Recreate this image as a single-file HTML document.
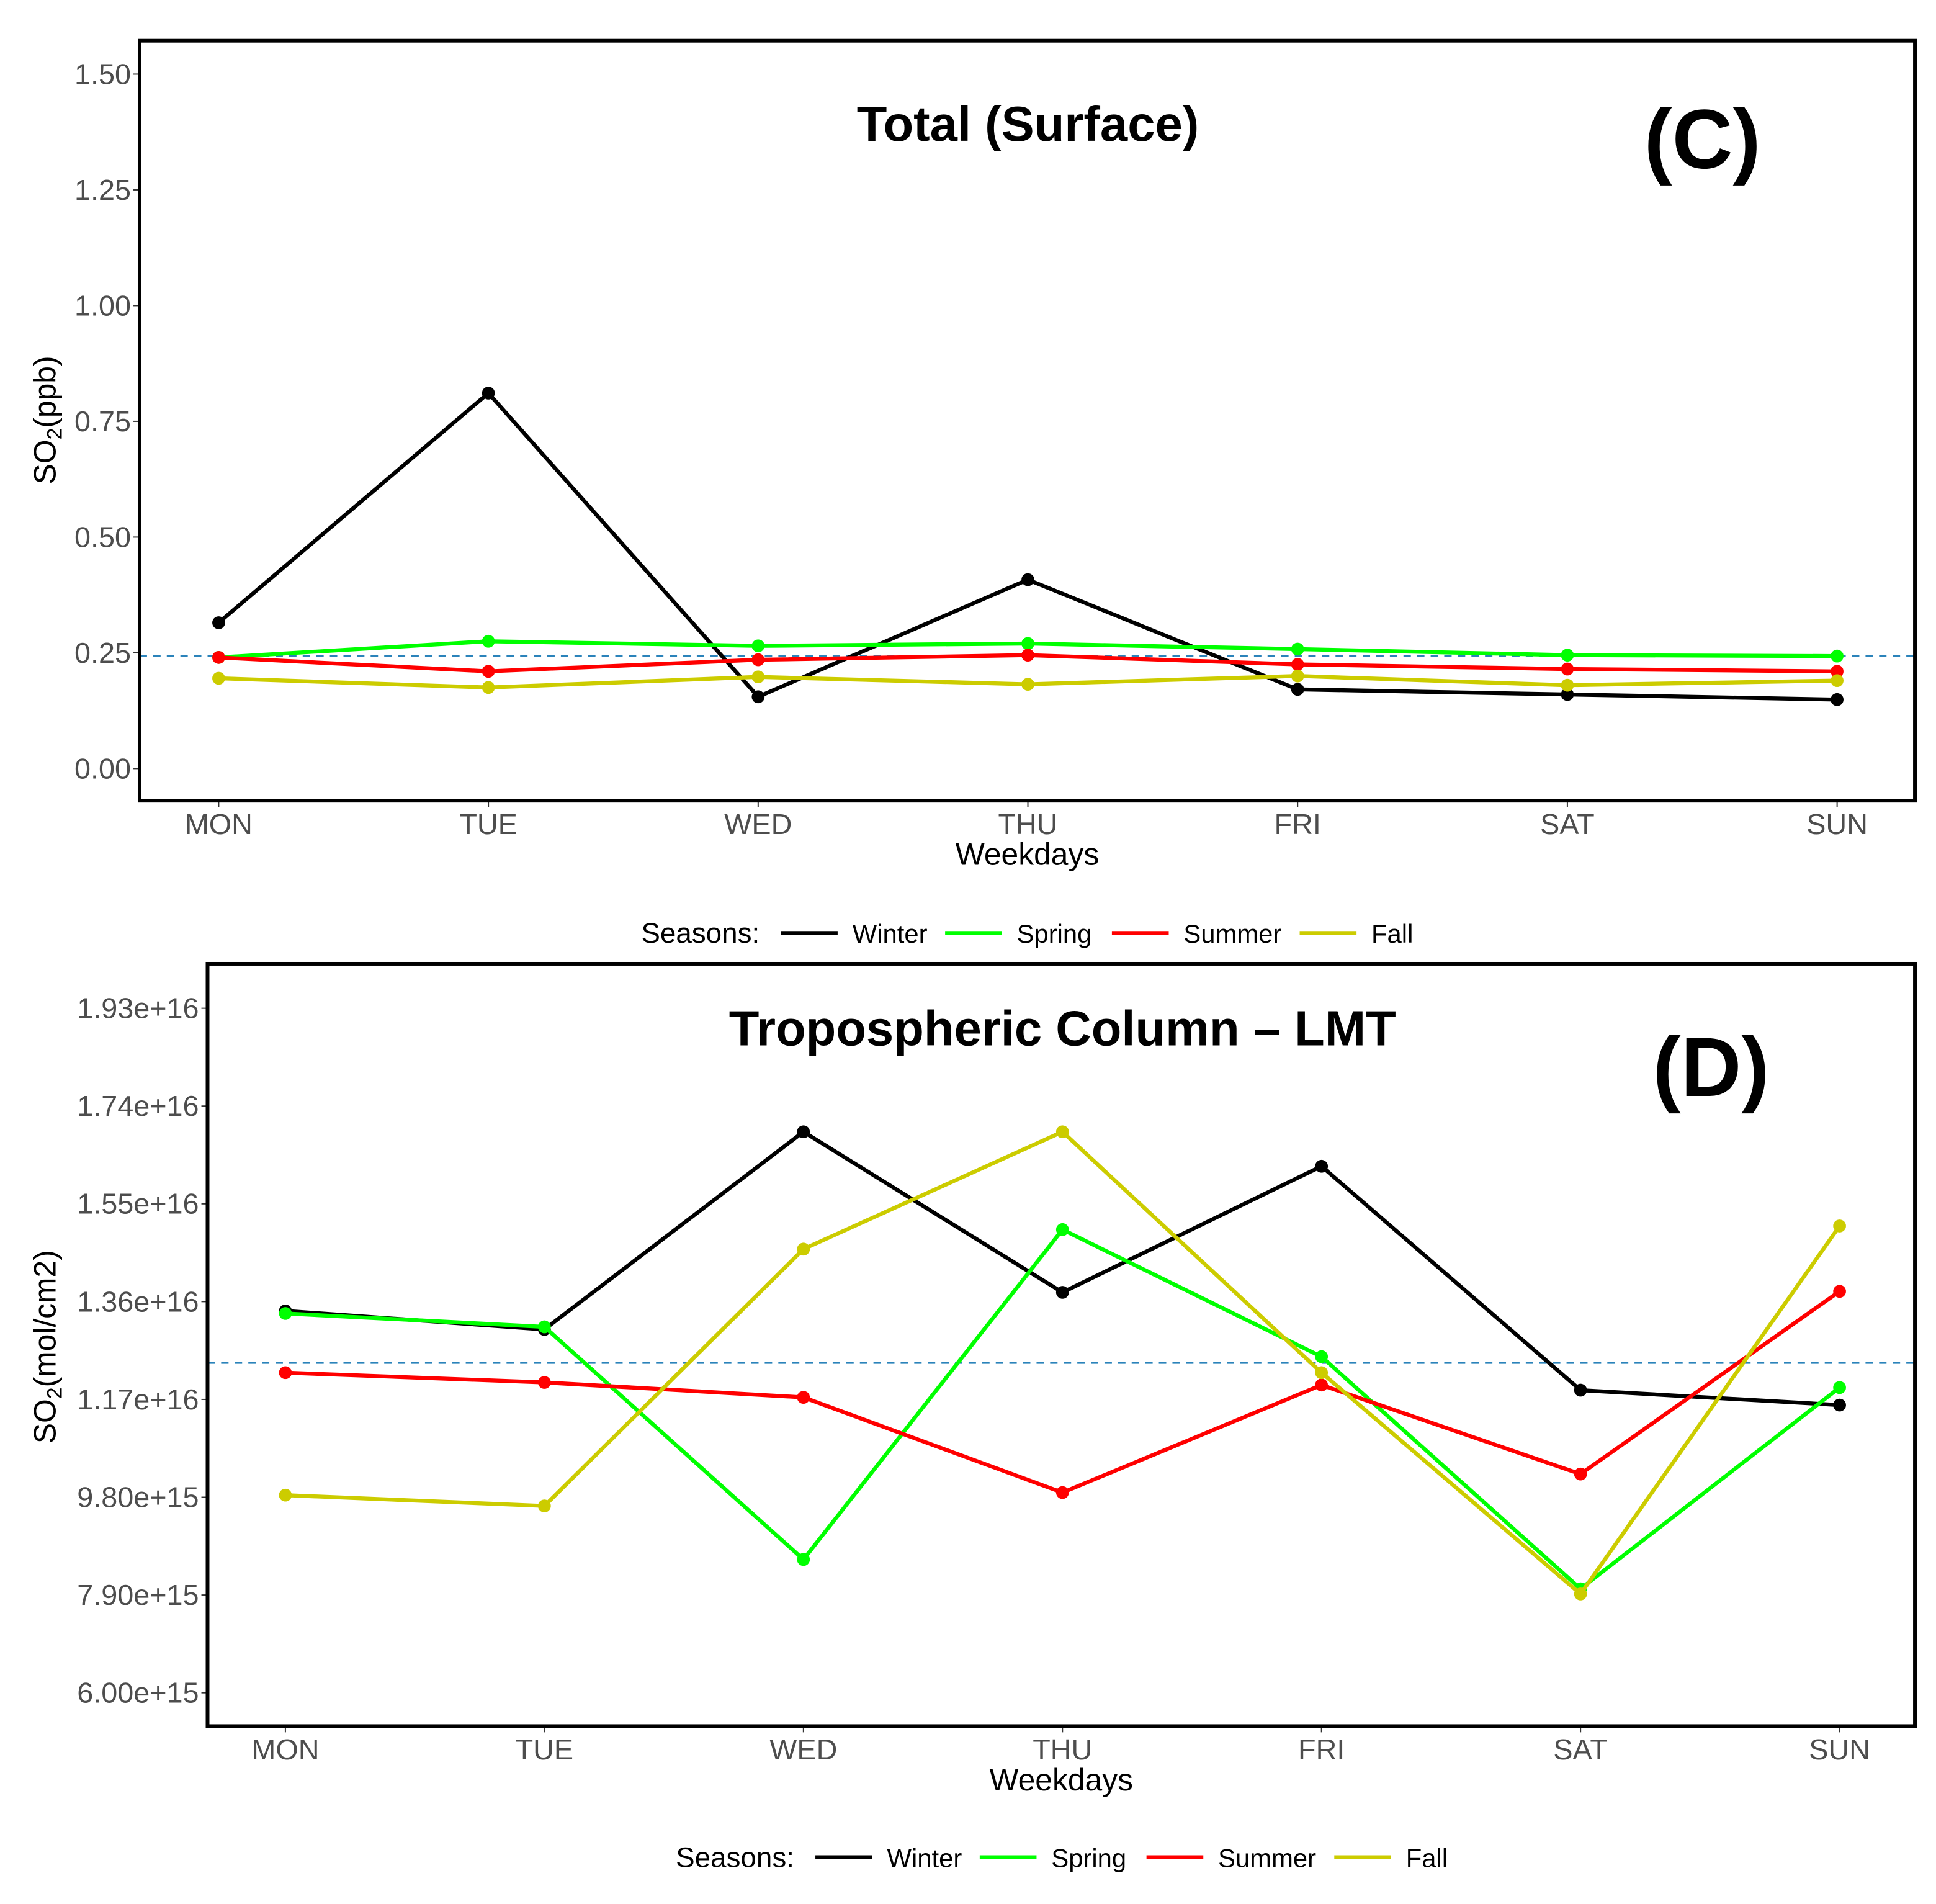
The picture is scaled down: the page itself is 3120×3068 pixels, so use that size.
<!DOCTYPE html>
<html><head><meta charset="utf-8"><style>html,body{margin:0;padding:0;background:#fff}svg{display:block}text{font-family:"Liberation Sans",Arial,sans-serif}</style></head>
<body>
<svg id="chart" width="3120" height="3068" viewBox="0 0 1560 1534" xmlns="http://www.w3.org/2000/svg"><g id="root" transform="scale(0.9955)"></g></svg>
<script>
const days=["MON","TUE","WED","THU","FRI","SAT","SUN"];
const seasons=["Winter","Spring","Summer","Fall"];
const colors=["#000000","#00ff00","#ff0000","#cccc00"];
const cWinter=[0.315,0.811,0.155,0.408,0.171,0.160,0.149];
const cSpring=[0.240,0.275,0.265,0.270,0.258,0.245,0.243];
const cSummer=[0.240,0.210,0.235,0.245,0.225,0.215,0.210];
const cFall=[0.195,0.175,0.198,0.182,0.200,0.180,0.190];
const cTicks=[0,0.25,0.5,0.75,1.0,1.25,1.5];
const cTickLabels=["0.00","0.25","0.50","0.75","1.00","1.25","1.50"];
const cMean=0.243;
const dWinter=[1.342,1.306,1.690,1.378,1.623,1.188,1.159];
const dSpring=[1.337,1.311,0.859,1.500,1.253,0.802,1.193];
const dSummer=[1.222,1.203,1.174,0.989,1.198,1.025,1.380];
const dFall=[0.984,0.963,1.462,1.690,1.222,0.792,1.507];
const dTicks=[0.60,0.79,0.98,1.17,1.36,1.55,1.74,1.93];
const dTickLabels=["6.00e+15","7.90e+15","9.80e+15","1.17e+16","1.36e+16","1.55e+16","1.74e+16","1.93e+16"];
const dMean=1.241;

const svg=document.getElementById('root');
const NS="http://www.w3.org/2000/svg";
function mk(tag,attrs,parent,text){const e=document.createElementNS(NS,tag);for(const k in attrs)e.setAttribute(k,attrs[k]);if(text!==undefined)e.textContent=text;(parent||svg).appendChild(e);return e;}

function panel(o){
  const g=mk('g',{});
  
  
  const x=i=>o.x0+i*(o.x1-o.x0)/6;
  const y=v=>o.yB-(v-o.vB)*(o.yT-o.yB)/(o.vB-o.vT);
  o.ticks.forEach((t,i)=>{
    const tk=mk('line',{x1:o.L-5,x2:o.L,y1:y(t),y2:y(t),stroke:'#333','stroke-width':1},g);
    
    
    const tl=mk('text',{x:o.L-7,y:y(t)+8,'text-anchor':'end','font-size':23.5,fill:'#4d4d4d'},g,o.labels[i]);
    
    
  });
  days.forEach((d,i)=>{
    mk('line',{x1:x(i),x2:x(i),y1:o.B,y2:o.B+5,stroke:'#333','stroke-width':1},g);
    const tl=mk('text',{x:x(i),y:o.B+27,'text-anchor':'middle','font-size':23.5,fill:'#4d4d4d'},g,d);
    
    
  });
  const ml=mk('line',{x1:o.L,x2:o.R,y1:y(o.mean),y2:y(o.mean),stroke:'#2b83ba','stroke-width':1.6,'stroke-dasharray':'6,5'},g);
  
  
  o.series.forEach((s,si)=>{
    const pts=s.map((v,i)=>x(i)+','+y(v)).join(' ');
    const pl=mk('polyline',{points:pts,fill:'none',stroke:colors[si],'stroke-width':3.2,'stroke-linejoin':'round'},g);
    
    
    s.forEach((v,i)=>{
      const c=mk('circle',{cx:x(i),cy:y(v),r:5.2,fill:colors[si]},g);
      
      
    });
  });
  const box=mk('rect',{x:o.L,y:o.T,width:o.R-o.L,height:o.B-o.T,fill:'none',stroke:'#000','stroke-width':3},g);
  
  
  const ti=mk('text',{x:o.titleX,y:o.titleY,'text-anchor':'middle','font-size':40,'font-weight':'bold'},g,o.title);
  
  
  const lb=mk('text',{x:o.tagX,y:o.tagY,'text-anchor':'middle','font-size':68,'font-weight':'bold'},g,o.tag);
  
  
  const xt=mk('text',{x:(o.L+o.R)/2,y:o.B+52,'text-anchor':'middle','font-size':25},g,'Weekdays');
  
  
  const yt=mk('text',{transform:'translate(45,'+o.ylabY+') rotate(-90)','text-anchor':'middle','font-size':25},g);
  
  
  mk('tspan',{},yt,'SO');
  mk('tspan',{'font-size':17,dy:5},yt,'2');
  mk('tspan',{dy:-5},yt,o.unit);
  const lg=mk('g',{},g);
  
  
  const ly=o.legY, dx=o.legDx;
  mk('text',{x:519+dx,y:ly+8,'font-size':23},lg,'Seasons:');
  const lx=[632,765,900,1052];
  seasons.forEach((s,i)=>{
    const e=mk('g',{},lg);
    
    
    mk('line',{x1:lx[i]+dx,x2:lx[i]+46+dx,y1:ly,y2:ly,stroke:colors[i],'stroke-width':3},e);
    mk('text',{x:lx[i]+58+dx,y:ly+8,'font-size':21},e,s);
  });
}
panel({name:'panel-c-surface',L:113,R:1550,T:33,B:648,x0:177,x1:1487,yT:60,vT:1.5,yB:622,vB:0,
  ticks:cTicks,labels:cTickLabels,mean:cMean,series:[cWinter,cSpring,cSummer,cFall],
  title:'Total (Surface)',titleX:832,titleY:114,tag:'(C)',tagX:1378,tagY:136,unit:'(ppb)',ylabY:340,legY:755,legDx:0});
panel({name:'panel-d-column',L:168,R:1550,T:780,B:1397,x0:231,x1:1489,yT:816,vT:1.93,yB:1370,vB:0.60,
  ticks:dTicks,labels:dTickLabels,mean:dMean,series:[dWinter,dSpring,dSummer,dFall],
  title:'Tropospheric Column \u2013 LMT',titleX:860,titleY:846,tag:'(D)',tagX:1385,tagY:887,unit:'(mol/cm2)',ylabY:1090,legY:1503,legDx:28});
</script>
</body></html>
